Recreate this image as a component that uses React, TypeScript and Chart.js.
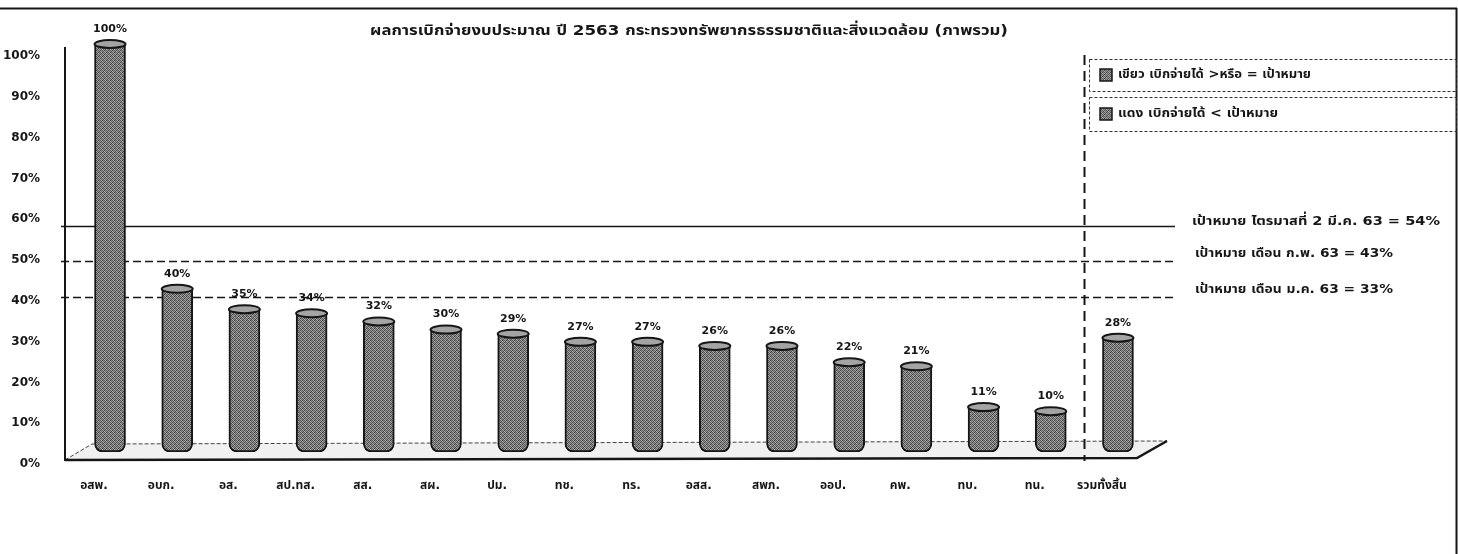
import React, { useEffect, useRef } from 'react';
import { Chart, registerables } from 'chart.js';

Chart.register(...registerables);

const TITLE = 'ผลการเบิกจ่ายงบประมาณ ปี 2563 กระทรวงทรัพยากรธรรมชาติและสิ่งแวดล้อม (ภาพรวม)';
const categories = ['อสพ.', 'อบก.', 'อส.', 'สป.ทส.', 'สส.', 'สผ.', 'ปม.', 'ทช.', 'ทร.', 'อสส.', 'สพภ.', 'ออป.', 'คพ.', 'ทบ.', 'ทน.', 'รวมทั้งสิ้น'];
const values = [100, 40, 35, 34, 32, 30, 29, 27, 27, 26, 26, 22, 21, 11, 10, 28];
const valueLabels = ['100%', '40%', '35%', '34%', '32%', '30%', '29%', '27%', '27%', '26%', '26%', '22%', '21%', '11%', '10%', '28%'];
const yTickValues = [0, 10, 20, 30, 40, 50, 60, 70, 80, 90, 100];
const legendLabels = ['เขียว เบิกจ่ายได้ >หรือ = เป้าหมาย', 'แดง เบิกจ่ายได้ < เป้าหมาย'];
// level at which each target line is drawn in the picture (3D perspective), and its label
const targetLevels = [55.4, 46.8, 38.0];
const targetLabels = ['เป้าหมาย ไตรมาสที่ 2 มี.ค. 63 = 54%', 'เป้าหมาย เดือน ก.พ. 63 = 43%', 'เป้าหมาย เดือน ม.ค. 63 = 33%'];

const FONT = '"DejaVu Sans", Tahoma, "Noto Sans Thai", sans-serif';
const INK = '#161616';

function fitText(ctx: CanvasRenderingContext2D, text: string, x: number, y: number, width: number, align: 'left' | 'center') {
  const m = ctx.measureText(text).width;
  const s = width / m;
  ctx.save();
  ctx.translate(x, y);
  ctx.scale(s, 1);
  ctx.textAlign = align;
  ctx.fillText(text, 0, 0);
  ctx.restore();
}

function makePattern(): CanvasPattern | string {
  const c = document.createElement('canvas');
  c.width = 4;
  c.height = 4;
  const g = c.getContext('2d');
  if (!g) return '#7a7a7a';
  const shades = [
    '#5a5a5a', '#a8a8a8', '#3c3c3c', '#8c8c8c',
    '#9a9a9a', '#4a4a4a', '#b4b4b4', '#666666',
    '#404040', '#8e8e8e', '#5e5e5e', '#a0a0a0',
    '#b0b0b0', '#6a6a6a', '#909090', '#484848',
  ];
  shades.forEach((s, k) => {
    g.fillStyle = s;
    g.fillRect(k % 4, Math.floor(k / 4), 1, 1);
  });
  return g.createPattern(c, 'repeat') || '#7a7a7a';
}

const decor = {
  id: 'decor',
  beforeDatasetsDraw(chart: any) {
    const { ctx, chartArea: ca, scales } = chart;
    const x = scales.x;
    const y = scales.y;
    const base = y.getPixelForValue(0);
    ctx.save();
    // outer frame
    ctx.strokeStyle = INK;
    ctx.lineWidth = 2;
    ctx.beginPath();
    ctx.moveTo(0, 8.5);
    ctx.lineTo(1457, 8.5);
    ctx.moveTo(1456.5, 8);
    ctx.lineTo(1456.5, 554);
    ctx.stroke();

    // floor
    const fl = ca.left, fr = ca.right;
    ctx.beginPath();
    ctx.moveTo(fl, base + 8);
    ctx.lineTo(fl + 27, base - 8);
    ctx.lineTo(fr + 2, base - 11);
    ctx.lineTo(fr - 28, base + 6);
    ctx.closePath();
    ctx.fillStyle = '#f1f1f1';
    ctx.fill();
    ctx.lineWidth = 1;
    ctx.setLineDash([4, 2]);
    ctx.strokeStyle = '#444';
    ctx.stroke();
    ctx.setLineDash([]);
    ctx.lineWidth = 2.5;
    ctx.strokeStyle = INK;
    ctx.beginPath();
    ctx.moveTo(fl, base + 8);
    ctx.lineTo(fr - 28, base + 6);
    ctx.lineTo(fr + 2, base - 11);
    ctx.stroke();

    // y axis line
    ctx.lineWidth = 2;
    ctx.beginPath();
    ctx.moveTo(ca.left, ca.top + 3);
    ctx.lineTo(ca.left, base + 9);
    ctx.stroke();

    // target lines
    targetLevels.forEach((lv, i) => {
      const py = Math.round(y.getPixelForValue(lv)) + 0.5;
      ctx.lineWidth = 1.5;
      ctx.setLineDash(i === 0 ? [] : [8, 4]);
      ctx.beginPath();
      ctx.moveTo(ca.left - 4, py);
      ctx.lineTo(ca.right + 10, py);
      ctx.stroke();
    });

    // separator before total
    const sx = Math.round(x.getPixelForValue(14.5)) + 0.5;
    ctx.setLineDash([10, 6]);
    ctx.lineWidth = 2;
    ctx.beginPath();
    ctx.moveTo(sx, 55);
    ctx.lineTo(sx, base + 9);
    ctx.stroke();
    ctx.restore();
  },
  afterDatasetsDraw(chart: any) {
    const { ctx } = chart;
    const meta = chart.getDatasetMeta(0);
    ctx.save();
    meta.data.forEach((bar: any, i: number) => {
      const w = bar.width;
      ctx.beginPath();
      ctx.ellipse(bar.x, bar.y, w / 2, 4, 0, 0, Math.PI * 2);
      ctx.fillStyle = '#a4a4a4';
      ctx.fill();
      ctx.lineWidth = 2;
      ctx.strokeStyle = INK;
      ctx.stroke();
      ctx.fillStyle = INK;
      ctx.font = 'bold 11px ' + FONT;
      ctx.textAlign = 'center';
      ctx.textBaseline = 'middle';
      ctx.fillText(valueLabels[i], bar.x, bar.y - 15);
    });
    ctx.restore();
  },
  afterDraw(chart: any) {
    const { ctx } = chart;
    ctx.save();
    ctx.fillStyle = INK;
    ctx.textBaseline = 'middle';
    // title
    ctx.font = 'bold 14px ' + FONT;
    fitText(ctx, TITLE, 689, 31, 638, 'center');

    // legend
    const boxes = [[1089, 59, 367, 32], [1089, 97, 367, 34]];
    const legendWidths = [193, 160];
    boxes.forEach((b, i) => {
      ctx.strokeStyle = '#333';
      ctx.lineWidth = 1;
      ctx.setLineDash([3, 2]);
      ctx.strokeRect(b[0] + 0.5, b[1] + 0.5, b[2], b[3]);
      ctx.setLineDash([]);
      const cy = b[1] + b[3] / 2;
      ctx.fillStyle = makePattern();
      ctx.fillRect(1100, cy - 6, 12, 12);
      ctx.strokeStyle = INK;
      ctx.lineWidth = 1.5;
      ctx.strokeRect(1100, cy - 6, 12, 12);
      ctx.fillStyle = INK;
      ctx.font = 'bold 13px ' + FONT;
      fitText(ctx, legendLabels[i], 1118, cy, legendWidths[i], 'left');
    });

    // target labels
    ctx.font = 'bold 13px ' + FONT;
    const tx = [1192, 1195, 1195];
    const ty = [222, 254, 290];
    const tw = [248, 198, 198];
    targetLabels.forEach((t, i) => {
      fitText(ctx, t, tx[i], ty[i], tw[i], 'left');
    });
    ctx.restore();
  },
};

export default function App() {
  const ref = useRef<HTMLCanvasElement | null>(null);
  useEffect(() => {
    if (!ref.current) return;
    const chart = new Chart(ref.current, {
      type: 'bar',
      data: {
        datasets: [
          {
            data: values.map((v, i) => ({ x: i, y: v })),
            backgroundColor: makePattern(),
            borderColor: INK,
            borderWidth: 2,
            borderSkipped: false,
            borderRadius: { topLeft: 0, topRight: 0, bottomLeft: 8, bottomRight: 8 },
            barThickness: 31,
          },
        ],
      },
      options: {
        responsive: false,
        animation: false,
        devicePixelRatio: 1,
        layout: { padding: { top: 44, left: 0, right: 293, bottom: 0 } },
        plugins: { legend: { display: false }, tooltip: { enabled: false }, title: { display: false } },
        scales: {
          x: {
            type: 'linear',
            offset: false,
            min: -0.67,
            max: 15.7,
            grid: { display: false, drawTicks: false },
            border: { display: false },
            afterFit: (s: any) => { s.height = 102; },
            afterBuildTicks: (s: any) => { s.ticks = categories.map((_, i) => ({ value: i })); },
            ticks: {
              callback: (v: any) => categories[Math.round(Number(v))] ?? '',
              labelOffset: -16,
              padding: 27,
              maxRotation: 0,
              autoSkip: false,
              color: INK,
              font: { family: FONT, size: 12, weight: 'bold' },
            },
          },
          y: {
            min: 0,
            max: 100,
            grid: { display: false, drawTicks: false },
            border: { display: false },
            afterFit: (s: any) => { s.width = 65; },
            afterBuildTicks: (s: any) => { s.ticks = yTickValues.map((v) => ({ value: v })); },
            ticks: {
              callback: (v: any) => v + '%',
              labelOffset: 12,
              padding: 25,
              color: INK,
              font: { family: FONT, size: 12, weight: 'bold' },
            },
          },
        },
      },
      plugins: [decor],
    } as any);
    return () => chart.destroy();
  }, []);
  return (
    <div style={{ position: 'absolute', left: 0, top: 0, width: 1458, height: 554, background: '#fff' }}>
      <canvas ref={ref} width={1458} height={554} style={{ display: 'block' }} />
    </div>
  );
}
